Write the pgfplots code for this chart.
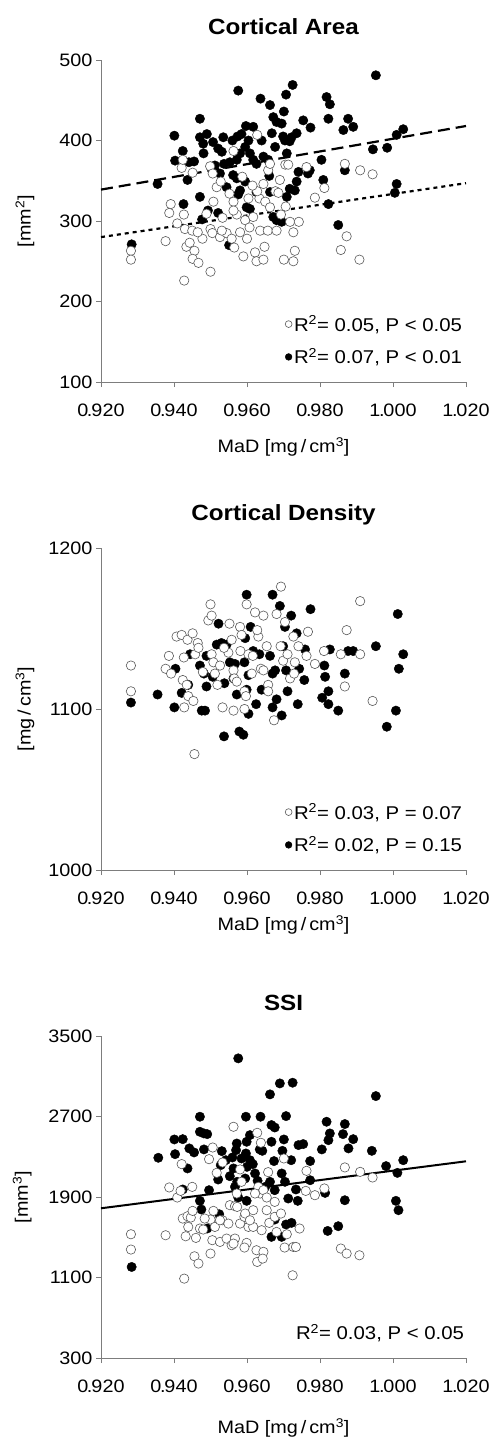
\documentclass[border=0pt]{standalone}
\usepackage{fontspec}
\setmainfont{Liberation Sans}[FakeStretch=1.1]
\usepackage{pgfplots}
\pgfplotsset{compat=1.18}
\definecolor{axgray}{RGB}{125,125,125}
\pgfplotsset{
  panel/.style={
    scale only axis, width=365pt, height=322pt,
    xmin=0.92, xmax=1.02,
    axis lines=left, axis line style={axgray, line width=0.8pt, -},
    tick style={axgray, line width=0.8pt}, tick align=outside, major tick length=5pt,
    xtick={0.92,0.94,0.96,0.98,1.00,1.02},
    scaled ticks=false,
    xticklabel style={yshift=-13pt, /pgf/number format/.cd, fixed, fixed zerofill, precision=3, dec sep={\kern-1.5pt.\kern-1pt}},
    yticklabel style={/pgf/number format/.cd, 1000 sep={}},
    /pgf/number format/assume math mode=true,
    tick label style={font=\fontsize{18}{21}\selectfont},
    label style={font=\fontsize{18}{21}\selectfont},
    title style={font=\fontsize{22}{26}\selectfont\bfseries, at={(axis description cs:0.5,1.085)}, anchor=center},
    xlabel={MaD [mg\,/\,cm\textsuperscript{3}]},
    clip=false,
    legend style={draw=none, fill=none, at={(axis description cs:0.995,0.045)}, anchor=south east,
      font=\fontsize{18.5}{22}\selectfont, row sep=12pt, inner sep=0pt},
    legend cell align=left,
    reverse legend,
    legend image code/.code={\draw[#1, mark size=3.4pt] plot coordinates {(0pt,0pt)};},
  },
  open/.style={only marks, mark=*, mark size=4.7pt, mark options={fill=white, draw=black!65, line width=0.6pt}},
  full/.style={only marks, mark=*, mark size=4.7pt, mark options={fill=black, draw=black}},
}
\begin{document}
\begin{tikzpicture}
\path[use as bounding box] (0pt,0pt) rectangle (493pt,-1447pt);

% ---------- Cortical Area ----------
\begin{axis}[panel, at={(101pt,-382pt)}, anchor=south west,
  ymin=100, ymax=500, ytick={100,200,300,400,500},
  title={Cortical Area},
  ylabel={[mm\textsuperscript{2}]},
  ylabel style={at={(axis description cs:-0.208,0.5)}, anchor=center},
  xlabel style={at={(axis description cs:0.5,-0.202)}, anchor=center}]
\addplot[full] coordinates {(0.9953,481)(0.9576,462)(0.9725,469)(0.9707,457)(0.9637,452)(0.9663,444)(0.9818,454)(0.9827,445)(0.9823,427)(0.9471,427)(0.9754,425)(0.9774,416)(0.9864,413)(0.9877,427)(0.9891,417)(1.0028,414)(1.0010,407)(0.9945,389)(0.9984,391)(0.9401,406)(0.9403,375)(0.9424,387)(0.9437,351)(0.9441,373)(0.9455,374)(0.9471,404)(0.9480,396)(0.9490,408)(0.9481,384)(0.9507,398)(0.9535,404)(0.9560,400)(0.9574,405)(0.9531,386)(0.9526,359)(0.9512,369)(0.9537,371)(0.9553,373)(0.9572,376)(0.9581,384)(0.9597,418)(0.9604,400)(0.9595,392)(0.9608,384)(0.9617,376)(0.9626,371)(0.9640,400)(0.9645,380)(0.9658,376)(0.9668,409)(0.9672,429)(0.9681,423)(0.9695,421)(0.9701,436)(0.9677,392)(0.9704,400)(0.9717,399)(0.9709,384)(0.9722,404)(0.9736,409)(0.9741,361)(0.9736,349)(0.9717,340)(0.9709,330)(0.9731,338)(0.9772,363)(0.9804,376)(0.9809,351)(0.9823,321)(0.9850,295)(0.9868,363)(1.0010,346)(1.0005,335)(0.9471,330)(0.9426,321)(0.9477,302)(0.9493,313)(0.9521,310)(0.9572,353)(0.9581,338)(0.9576,333)(0.9599,317)(0.9608,315)(0.9626,336)(0.9663,336)(0.9672,305)(0.9681,301)(0.9695,299)(0.9284,271)(0.9355,346)(0.9551,270)(0.9521,390)(0.9585,408)(0.9699,405)(0.9617,417)(0.9562,357)(0.9595,349)(0.9544,342)(0.9661,356)(0.9767,359)};
\addlegendentry{R\textsuperscript{2}= 0.07, P < 0.01}
\addplot[open] coordinates {(0.9282,263)(0.9282,252)(0.9377,275)(0.9391,321)(0.9387,310)(0.9409,297)(0.9427,308)(0.9430,290)(0.9434,268)(0.9443,273)(0.9428,226)(0.9456,263)(0.9451,253)(0.9467,248)(0.9450,288)(0.9478,278)(0.9500,237)(0.9499,368)(0.9421,366)(0.9424,376)(0.9451,360)(0.9508,324)(0.9500,290)(0.9505,285)(0.9526,280)(0.9517,342)(0.9533,304)(0.9544,285)(0.9558,278)(0.9565,267)(0.9552,334)(0.9563,324)(0.9572,308)(0.9581,286)(0.9590,256)(0.9600,278)(0.9595,301)(0.9607,292)(0.9617,305)(0.9587,355)(0.9563,387)(0.9628,407)(0.9634,328)(0.9628,337)(0.9622,261)(0.9626,250)(0.9636,288)(0.9645,252)(0.9648,268)(0.9650,324)(0.9645,346)(0.9658,363)(0.9657,288)(0.9663,317)(0.9678,337)(0.9686,335)(0.9681,288)(0.9693,308)(0.9701,252)(0.9705,370)(0.9713,370)(0.9718,299)(0.9727,286)(0.9727,250)(0.9731,263)(0.9742,299)(0.9763,367)(0.9786,329)(0.9812,341)(0.9868,371)(0.9873,281)(0.9857,264)(0.9910,363)(0.9908,252)(0.9944,358)(0.9506,359)(0.9528,349)(0.9489,309)(0.9465,286)(0.9531,288)(0.9604,328)(0.9615,344)(0.9690,351)(0.9663,371)(0.9706,318)(0.9563,313)};
\addlegendentry{R\textsuperscript{2}= 0.05, P < 0.05}
\addplot[forget plot, black, line width=2.2pt, dash pattern=on 12pt off 6pt] coordinates {(0.92,339) (1.02,418)};
\addplot[forget plot, black, line width=2.2pt, dash pattern=on 4pt off 4pt] coordinates {(0.92,280) (1.02,347)};
\end{axis}

% ---------- Cortical Density ----------
\begin{axis}[panel, at={(101pt,-870pt)}, anchor=south west,
  ymin=1000, ymax=1200, ytick={1000,1100,1200},
  title={Cortical Density},
  ylabel={[mg\,/\,cm\textsuperscript{3}]},
  ylabel style={at={(axis description cs:-0.208,0.5)}, anchor=center},
  xlabel style={at={(axis description cs:0.5,-0.171)}, anchor=center}]
\addplot[full] coordinates {(0.9282,1104)(0.9355,1109)(0.9401,1101)(0.9404,1125)(0.9421,1110)(0.9444,1134)(0.9471,1127)(0.9476,1099)(0.9485,1099)(0.9482,1122)(0.9489,1114)(0.9506,1120)(0.9522,1153)(0.9517,1140)(0.9530,1141)(0.9538,1116)(0.9537,1083)(0.9553,1129)(0.9567,1128)(0.9572,1109)(0.9579,1086)(0.9590,1084)(0.9599,1171)(0.9593,1129)(0.9604,1121)(0.9599,1112)(0.9604,1097)(0.9610,1151)(0.9625,1103)(0.9634,1134)(0.9640,1112)(0.9663,1133)(0.9670,1171)(0.9670,1122)(0.9677,1124)(0.9670,1101)(0.9690,1164)(0.9704,1151)(0.9681,1106)(0.9695,1096)(0.9707,1124)(0.9711,1111)(0.9721,1158)(0.9736,1147)(0.9739,1103)(0.9743,1125)(0.9757,1118)(0.9774,1162)(0.9759,1137)(0.9812,1127)(0.9814,1120)(0.9827,1137)(0.9806,1107)(0.9823,1111)(0.9823,1103)(0.9850,1099)(0.9868,1122)(0.9877,1136)(0.9891,1136)(0.9953,1139)(0.9983,1089)(1.0008,1099)(1.0013,1159)(1.0016,1125)(1.0028,1134)(0.9563,1119)(0.9654,1112)(0.9617,1136)(0.9489,1133)(0.9544,1140)(0.9699,1139)(0.9439,1115)(0.9595,1144)};
\addlegendentry{R\textsuperscript{2}= 0.02, P = 0.15}
\addplot[open] coordinates {(0.9282,1127)(0.9282,1111)(0.9377,1125)(0.9386,1133)(0.9392,1122)(0.9407,1145)(0.9421,1146)(0.9427,1132)(0.9437,1143)(0.9451,1147)(0.9424,1118)(0.9435,1115)(0.9439,1108)(0.9428,1101)(0.9453,1105)(0.9456,1072)(0.9458,1134)(0.9465,1141)(0.9467,1138)(0.9479,1123)(0.9494,1155)(0.9500,1165)(0.9503,1158)(0.9503,1134)(0.9508,1129)(0.9512,1122)(0.9519,1115)(0.9533,1101)(0.9526,1127)(0.9552,1153)(0.9558,1143)(0.9549,1135)(0.9563,1124)(0.9565,1119)(0.9563,1099)(0.9572,1117)(0.9581,1151)(0.9585,1146)(0.9582,1136)(0.9593,1111)(0.9597,1108)(0.9593,1100)(0.9599,1165)(0.9604,1134)(0.9616,1133)(0.9622,1160)(0.9631,1145)(0.9628,1149)(0.9638,1125)(0.9645,1158)(0.9645,1124)(0.9654,1139)(0.9658,1115)(0.9658,1111)(0.9674,1093)(0.9681,1159)(0.9693,1176)(0.9692,1139)(0.9699,1130)(0.9711,1134)(0.9718,1119)(0.9727,1145)(0.9731,1129)(0.9729,1122)(0.9741,1139)(0.9763,1133)(0.9767,1148)(0.9786,1128)(0.9811,1136)(0.9857,1134)(0.9868,1114)(0.9873,1149)(0.9910,1134)(0.9910,1167)(0.9944,1105)(0.9704,1154)(0.9537,1138)(0.9613,1122)};
\addlegendentry{R\textsuperscript{2}= 0.03, P = 0.07}
\end{axis}

% ---------- SSI ----------
\begin{axis}[panel, at={(101pt,-1358pt)}, anchor=south west,
  ymin=300, ymax=3500, ytick={300,1100,1900,2700,3500},
  title={SSI},
  ylabel={[mm\textsuperscript{3}]},
  ylabel style={at={(axis description cs:-0.216,0.5)}, anchor=center},
  xlabel style={at={(axis description cs:0.5,-0.217)}, anchor=center}]
\addplot[full] coordinates {(0.9576,3278)(0.9690,3029)(0.9725,3036)(0.9663,2920)(0.9953,2903)(0.9471,2698)(0.9597,2698)(0.9637,2698)(0.9707,2704)(0.9818,2648)(0.9868,2625)(0.9667,2615)(0.9676,2591)(0.9471,2548)(0.9482,2532)(0.9491,2525)(0.9827,2532)(0.9863,2525)(0.9823,2465)(0.9891,2475)(0.9401,2472)(0.9424,2475)(0.9608,2515)(0.9599,2449)(0.9572,2432)(0.9667,2449)(0.9701,2472)(0.9741,2416)(0.9754,2426)(0.9442,2383)(0.9455,2343)(0.9482,2373)(0.9531,2356)(0.9570,2366)(0.9597,2333)(0.9635,2373)(0.9642,2359)(0.9697,2359)(0.9805,2373)(0.9878,2383)(0.9942,2359)(0.9357,2290)(0.9403,2326)(0.9560,2293)(0.9585,2283)(0.9608,2266)(0.9674,2257)(0.9721,2266)(0.9773,2257)(0.9981,2207)(1.0028,2266)(0.9437,2184)(0.9528,2217)(0.9563,2184)(0.9600,2200)(0.9622,2134)(0.9695,2134)(1.0012,2140)(0.9521,2074)(0.9553,2107)(0.9573,2051)(0.9629,2061)(0.9663,2051)(0.9704,2051)(0.9773,2067)(0.9424,1975)(0.9496,1968)(0.9567,2001)(0.9676,1968)(0.9734,1975)(0.9814,1941)(0.9576,1895)(0.9599,1862)(0.9471,1862)(0.9475,1776)(0.9739,1862)(0.9868,1868)(1.0008,1862)(1.0015,1769)(0.9524,1729)(0.9676,1676)(0.9707,1627)(0.9722,1643)(0.9491,1587)(0.9821,1563)(0.9850,1610)(0.9667,1504)(0.9695,1504)(0.9284,1205)(0.9542,2266)(0.9616,2227)(0.9595,2084)(0.9650,2001)(0.9713,1885)};
\addplot[open] coordinates {(0.9563,2598)(0.9628,2538)(0.9638,2439)(0.9506,2392)(0.9496,2276)(0.9421,2227)(0.9533,2243)(0.9517,2140)(0.9581,2174)(0.9658,2147)(0.9701,2283)(0.9763,2160)(0.9868,2194)(0.9910,2150)(0.9944,2094)(0.9387,1995)(0.9409,1895)(0.9450,2001)(0.9418,1961)(0.9585,2051)(0.9631,2001)(0.9636,1935)(0.9645,1968)(0.9676,1852)(0.9761,1961)(0.9786,1918)(0.9812,1985)(0.9377,1520)(0.9282,1530)(0.9282,1378)(0.9424,1686)(0.9437,1709)(0.9446,1696)(0.9451,1762)(0.9439,1603)(0.9432,1510)(0.9460,1494)(0.9471,1587)(0.9480,1577)(0.9456,1311)(0.9467,1239)(0.9428,1089)(0.9500,1676)(0.9508,1762)(0.9512,1603)(0.9505,1471)(0.9500,1338)(0.9526,1454)(0.9533,1669)(0.9549,1636)(0.9544,1487)(0.9558,1421)(0.9553,1819)(0.9567,1809)(0.9573,1802)(0.9567,1487)(0.9563,1437)(0.9581,1636)(0.9593,1703)(0.9595,1736)(0.9599,1444)(0.9593,1398)(0.9604,1603)(0.9617,1769)(0.9617,1603)(0.9626,1371)(0.9628,1255)(0.9645,1355)(0.9643,1288)(0.9640,1570)(0.9654,1769)(0.9661,1643)(0.9676,1703)(0.9693,1736)(0.9681,1553)(0.9709,1530)(0.9703,1398)(0.9727,1404)(0.9725,1122)(0.9744,1587)(0.9734,1404)(0.9857,1388)(0.9873,1338)(0.9908,1321)(0.9622,1935)(0.9572,1935)(0.9608,1669)(0.9654,1895)(0.9526,1669)(0.9484,1686)};
\addplot[black, line width=2pt] coordinates {(0.92,1788) (1.02,2255)};
\node[anchor=south east, inner sep=0pt, font=\fontsize{18.5}{22}\selectfont] at (axis description cs:0.995,0.05) {R\textsuperscript{2}= 0.03, P < 0.05};
\end{axis}
\end{tikzpicture}
\end{document}
